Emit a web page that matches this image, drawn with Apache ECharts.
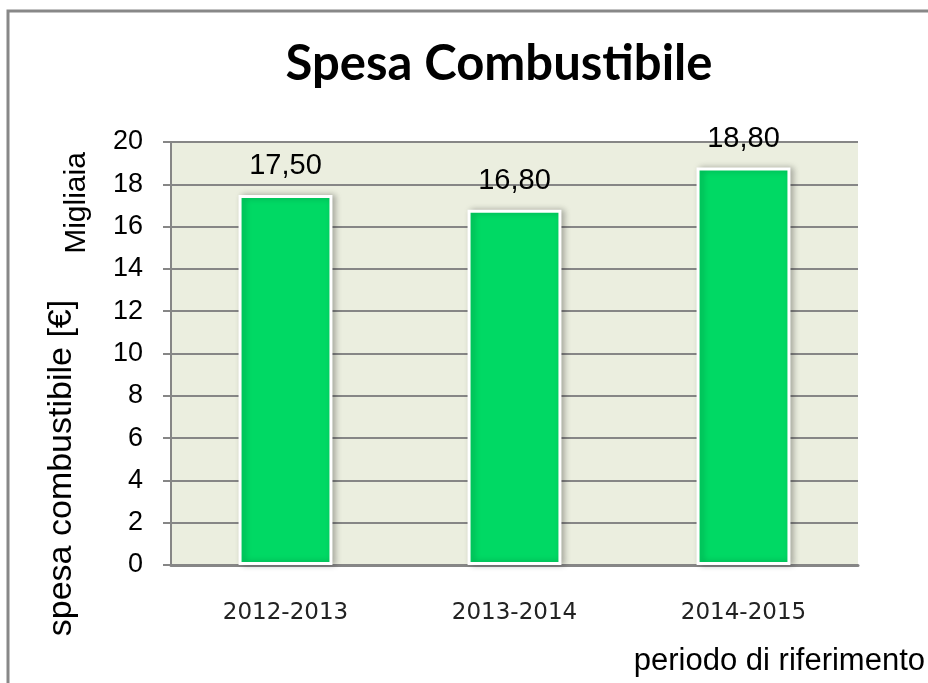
<!DOCTYPE html>
<html>
<head>
<meta charset="utf-8">
<script src="https://cdn.jsdelivr.net/npm/echarts@6/dist/echarts.min.js"></script>
<style>
  html, body { margin: 0; padding: 0; background: #fff; }
  #main { width: 928px; height: 683px; }
</style>
</head>
<body>
<div id="main"></div>
<script>
// dati
const periodi = ['2012-2013', '2013-2014', '2014-2015']
const spesa = [17.5, 16.8, 18.8]
const yTicks = [0, 2, 4, 6, 8, 10, 12, 14, 16, 18, 20]

const chart = echarts.init(document.getElementById('main'))

const option = {
  backgroundColor: '#fff',
  animation: false,
  grid: { left: 171, right: 70, top: 142, bottom: 118, show: true, backgroundColor: '#EBEEDF', borderWidth: 0 },
  xAxis: {
    type: 'category',
    data: periodi,
    axisLine: { lineStyle: { color: '#868686', width: 3 } },
    axisTick: { show: false },
    axisLabel: { margin: 37, fontFamily: 'DejaVu Sans', fontSize: 23, color: '#222' }
  },
  yAxis: {
    type: 'value',
    min: yTicks[0],
    max: yTicks[yTicks.length - 1],
    interval: 2,
    axisLine: { show: true, lineStyle: { color: '#868686', width: 2 } },
    axisTick: { show: true, length: 8, lineStyle: { color: '#868686', width: 2 } },
    axisLabel: { margin: 28, fontFamily: 'Liberation Sans', fontSize: 27, color: '#000' },
    splitLine: { lineStyle: { color: '#868686', width: 2 } }
  },
  series: [
    {
      type: 'bar',
      data: spesa,
      barWidth: '41%',
      itemStyle: {
        color: '#00D964',
        borderColor: '#fff',
        borderWidth: 3,
        shadowBlur: 6,
        shadowOffsetX: 3,
        shadowColor: 'rgba(0,0,0,0.25)'
      },
      label: {
        show: true,
        position: 'top',
        distance: 14,
        fontFamily: 'Liberation Sans',
        fontSize: 29,
        color: '#000',
        formatter: p => p.value.toFixed(2).replace('.', ',')
      }
    }
  ],
  graphic: [
    {
      type: 'rect',
      shape: { x: 8, y: 11, width: 1000, height: 750 },
      style: { fill: null, stroke: '#888', lineWidth: 3 },
      silent: true
    },
    {
      type: 'text',
      x: 499, y: 64,
      style: { text: 'Spesa Combustibile', font: 'bold 49px Lato', fill: '#000', align: 'center', verticalAlign: 'middle' }
    },
    {
      type: 'text',
      x: 77, y: 203, rotation: Math.PI / 2,
      style: { text: 'Migliaia', font: '30px "Liberation Sans"', fill: '#000', align: 'center', verticalAlign: 'middle' }
    },
    {
      type: 'text',
      x: 62, y: 468, rotation: Math.PI / 2,
      style: { text: 'spesa combustibile [€]', font: '34px "Liberation Sans"', fill: '#000', align: 'center', verticalAlign: 'middle' }
    },
    {
      type: 'text',
      x: 925, y: 661,
      style: { text: 'periodo di riferimento', font: '31px "Liberation Sans"', fill: '#000', align: 'right', verticalAlign: 'middle' }
    }
  ]
}

chart.setOption(option)
</script>
</body>
</html>
